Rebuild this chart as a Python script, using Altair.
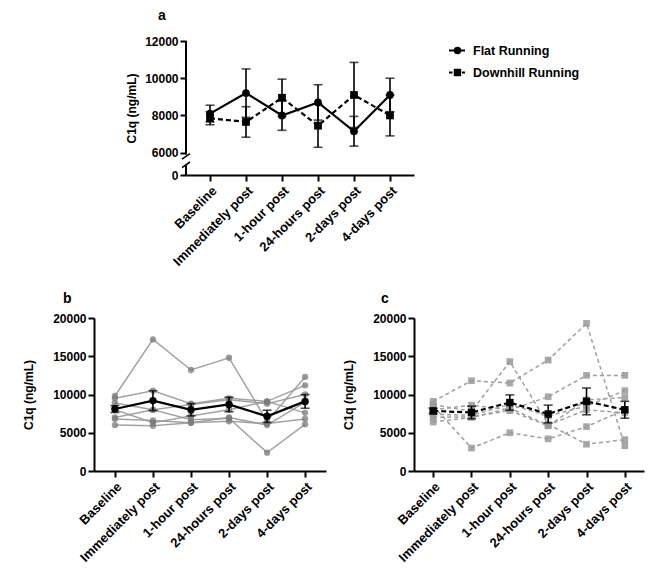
import altair as alt
import pandas as pd

categories = ["Baseline", "Immediately post", "1-hour post", "24-hours post", "2-days post", "4-days post"]
groups = ["Flat Running", "Downhill Running"]

flat_mean = [8100, 9200, 8000, 8700, 7150, 9100]
flat_sem = [450, 1300, 800, 950, 800, 900]
down_mean = [7850, 7650, 8950, 7450, 9100, 8000]
down_sem = [350, 820, 1000, 1160, 1750, 1100]

flat_subjects = [
    [9800, 17200, 13200, 14800, 6500, 12300],
    [9500, 10500, 8800, 9500, 9100, 7600],
    [8900, 8000, 8700, 9300, 8800, 10000],
    [8000, 6300, 7200, 8000, 9100, 11200],
    [7000, 8000, 6700, 6900, 2400, 6100],
    [6800, 6600, 6300, 6500, 6200, 6800],
    [6000, 5900, 6300, 7000, 6000, 9000],
]
down_subjects = [
    [9100, 11800, 11500, 14500, 19300, 3300],
    [8700, 7800, 14300, 6100, 3500, 4100],
    [8500, 3000, 5000, 4200, 5800, 8000],
    [8000, 8600, 8000, 9700, 12500, 12500],
    [7400, 7300, 8700, 7200, 8500, 10500],
    [7000, 7100, 7900, 5900, 9300, 9600],
    [6400, 7000, 8200, 6000, 8000, 7600],
]

a_ticks = [4800, 6000, 8000, 10000, 12000]
bc_ticks = [0, 5000, 10000, 15000, 20000]
panel_letters = ["a", "b", "c"]

FONT = "Liberation Sans"


def mean_frame(mean, sem, name):
    df = pd.DataFrame({"time": categories, "mean": mean, "sem": sem})
    df["lo"] = df["mean"] - df["sem"]
    df["hi"] = df["mean"] + df["sem"]
    df["group"] = name
    return df


def subj_frame(subjects, prefix):
    rows = []
    for i, vals in enumerate(subjects):
        for c, v in zip(categories, vals):
            rows.append({"subject": f"{prefix}{i + 1}", "time": c, "value": v})
    return pd.DataFrame(rows)


flat_df = mean_frame(flat_mean, flat_sem, groups[0])
down_df = mean_frame(down_mean, down_sem, groups[1])
flat_subj = subj_frame(flat_subjects, "F")
down_subj = subj_frame(down_subjects, "D")


def x_enc(scale):
    return alt.X(
        "time:N", sort=categories, title=None, scale=scale,
        axis=alt.Axis(labelAngle=-45, labelFont=FONT, labelFontWeight="bold",
                      labelFontSize=13, labelColor="black", domainColor="black",
                      domainWidth=2, tickColor="black", tickWidth=2, tickSize=6,
                      labelPadding=3, labelOverlap=False),
    )


def y_axis(values, extra=None):
    kw = dict(values=values, format="d", title="C1q (ng/mL)", titleFont=FONT,
              titleFontSize=12, titleFontWeight="bold", titleColor="black",
              titlePadding=17, labelFont=FONT, labelFontWeight="bold",
              labelFontSize=12, labelColor="black", domainColor="black",
              domainWidth=2, tickColor="black", tickWidth=2, tickSize=6,
              grid=False, labelPadding=2, labelOverlap=False)
    if extra:
        kw.update(extra)
    return alt.Axis(**kw)


def letter(idx, dx, dy):
    df = pd.DataFrame({"t": [panel_letters[idx]]})
    return alt.Chart(df).mark_text(align="left", baseline="alphabetic", font=FONT,
                                   fontSize=14, fontWeight="bold", color="black").encode(
        x=alt.value(dx), y=alt.value(dy), text="t:N")


def mean_layers(df, xs, yscale, yaxis, dash, shape, size, cap):
    base = alt.Chart(df)
    yq = alt.Y("mean:Q", scale=yscale, axis=yaxis)
    line_kw = dict(color="black", strokeWidth=2.2)
    if dash:
        line_kw["strokeDash"] = [5, 3]
    line = base.mark_line(**line_kw).encode(x=x_enc(xs), y=yq)
    err = base.mark_rule(color="black", strokeWidth=1.6).encode(
        x=x_enc(xs), y=alt.Y("lo:Q", scale=yscale, axis=yaxis), y2="hi:Q")
    cap_lo = base.mark_tick(color="black", thickness=1.6, size=cap).encode(
        x=x_enc(xs), y=alt.Y("lo:Q", scale=yscale, axis=yaxis))
    cap_hi = base.mark_tick(color="black", thickness=1.6, size=cap).encode(
        x=x_enc(xs), y=alt.Y("hi:Q", scale=yscale, axis=yaxis))
    pts = base.mark_point(filled=True, opacity=1, color="black", shape=shape,
                          size=size).encode(x=x_enc(xs), y=yq)
    return [err, cap_lo, cap_hi, line, pts]


# ---------- panel a (its axes sit 92px inside a wider view, aligned over b) ----------
A_SHIFT = 92
ya_scale = alt.Scale(domain=[4800, 12000], nice=False, zero=False)
ya_axis = y_axis(a_ticks, dict(domain=False, titlePadding=6, offset=-A_SHIFT,
                                labelExpr="datum.value == 4800 ? '0' : datum.label"))
xa_scale = alt.Scale(type="point", range=[A_SHIFT, A_SHIFT + 228], padding=0.667)

# broken y-axis decoration (segments and break slashes, in data units)
seg_df = pd.DataFrame({"y": [12000, 5330], "y2": [5900, 4800]})
slash_df = pd.DataFrame({"y": [5650, 5200], "y2": [5950, 5500]})
axis_segs = alt.Chart(seg_df).mark_rule(color="black", strokeWidth=2).encode(
    x=alt.value(A_SHIFT), y=alt.Y("y:Q", scale=ya_scale, axis=ya_axis), y2="y2:Q")
slashes = alt.Chart(slash_df).mark_rule(color="black", strokeWidth=1.6).encode(
    x=alt.value(A_SHIFT - 4), x2=alt.value(A_SHIFT + 4),
    y=alt.Y("y:Q", scale=ya_scale, axis=ya_axis), y2="y2:Q")

legend_df = pd.DataFrame({"label": groups})
leg_flat = legend_df[legend_df.label == groups[0]]
leg_down = legend_df[legend_df.label == groups[1]]
LX0, LX1, LM, LT = 355, 371, 363.5, 379
LY1, LY2 = 9.5, 31.5
leg_layers = [
    alt.Chart(leg_flat).mark_rule(color="black", strokeWidth=2).encode(
        x=alt.value(LX0), x2=alt.value(LX1), y=alt.value(LY1)),
    alt.Chart(leg_flat).mark_point(filled=True, opacity=1, color="black", shape="circle", size=55).encode(
        x=alt.value(LM), y=alt.value(LY1)),
    alt.Chart(leg_flat).mark_text(align="left", baseline="middle", font=FONT, fontWeight="bold",
                                  fontSize=12.5, color="black").encode(
        x=alt.value(LT), y=alt.value(LY1), text="label:N"),
    alt.Chart(leg_down).mark_rule(color="black", strokeWidth=2, strokeDash=[3.5, 3]).encode(
        x=alt.value(LX0), x2=alt.value(LX1), y=alt.value(LY2)),
    alt.Chart(leg_down).mark_point(filled=True, opacity=1, color="black", shape="square", size=55).encode(
        x=alt.value(LM), y=alt.value(LY2)),
    alt.Chart(leg_down).mark_text(align="left", baseline="middle", font=FONT, fontWeight="bold",
                                  fontSize=12.5, color="black").encode(
        x=alt.value(LT), y=alt.value(LY2), text="label:N"),
]
# white dot giving panel a the same left extent as panel b's axis
ghost = alt.Chart(legend_df.head(1)).mark_point(filled=True, color="white", opacity=1, size=1).encode(
    x=alt.value(-70), y=alt.value(60))

chart_a = alt.layer(
    axis_segs, slashes,
    *mean_layers(flat_df, xa_scale, ya_scale, ya_axis, False, "circle", 60, 9),
    *mean_layers(down_df, xa_scale, ya_scale, ya_axis, True, "square", 60, 9),
    *leg_layers, ghost, letter(0, A_SHIFT - 28, -21),
).properties(width=A_SHIFT + 228, height=134)

# ---------- panel b ----------
ybc_scale = alt.Scale(domain=[0, 20000], nice=False)
ybc_axis = y_axis(bc_ticks)
xb_scale = alt.Scale(type="point", padding=0.55)
xc_scale = alt.Scale(type="point", padding=0.5)

b_lines = alt.Chart(flat_subj).mark_line(color="#999999", strokeWidth=1.5, opacity=0.9).encode(
    x=x_enc(xb_scale), y=alt.Y("value:Q", scale=ybc_scale, axis=ybc_axis), detail="subject:N")
b_pts = alt.Chart(flat_subj).mark_point(filled=True, color="#7a7a7a", opacity=0.75, shape="circle",
                                        size=40).encode(
    x=x_enc(xb_scale), y=alt.Y("value:Q", scale=ybc_scale, axis=ybc_axis))
chart_b = alt.layer(
    b_lines, b_pts,
    *mean_layers(flat_df, xb_scale, ybc_scale, ybc_axis, False, "circle", 55, 9),
    letter(1, -31, -15),
).properties(width=232, height=153)

# ---------- panel c ----------
c_lines = alt.Chart(down_subj).mark_line(color="#9a9a9a", strokeWidth=1.5, strokeDash=[4, 3],
                                         opacity=0.95).encode(
    x=x_enc(xc_scale), y=alt.Y("value:Q", scale=ybc_scale, axis=ybc_axis), detail="subject:N")
c_pts = alt.Chart(down_subj).mark_point(filled=True, color="#999999", opacity=0.85, shape="square",
                                        size=45).encode(
    x=x_enc(xc_scale), y=alt.Y("value:Q", scale=ybc_scale, axis=ybc_axis))
chart_c = alt.layer(
    c_lines, c_pts,
    *mean_layers(down_df, xc_scale, ybc_scale, ybc_axis, True, "square", 55, 9),
    letter(2, -33, -15),
).properties(width=230, height=153)

bottom = alt.hconcat(chart_b, chart_c, spacing=16)

chart = alt.vconcat(chart_a, bottom, spacing=23).properties(
    padding={"left": 14, "top": 1, "right": 4, "bottom": 4}
).configure(background="white").configure_view(stroke="transparent", strokeWidth=0)

chart.save("out.html", embed_options={"renderer": "svg", "actions": False})
